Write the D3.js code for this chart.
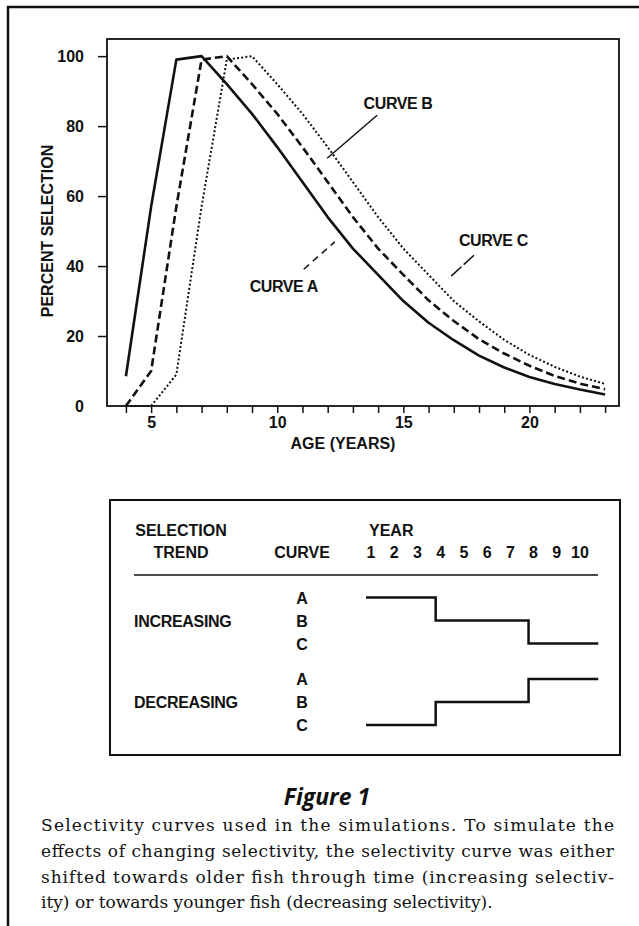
<!DOCTYPE html>
<html>
<head>
<meta charset="utf-8">
<script src="https://cdn.jsdelivr.net/npm/d3@7"></script>
<style>
    body { margin: 0; background: #fff; }
    svg { display: block; }
    .lbl { font-family: "Liberation Sans", Arial, sans-serif; font-weight: bold; font-size: 16px; fill: #111; }
    .cap { font-family: "DejaVu Serif", serif; font-size: 17px; fill: #111; }
</style>
</head>
<body>
<script>
// selectivity (percent) by age for the three curves
let ages = [4, 5, 6, 7, 8, 9, 10, 11, 12, 13, 14, 15, 16, 17, 18, 19, 20, 21, 22, 23];
let curveA = [8.5, 57, 99, 100, 92, 83.5, 74, 64, 54, 45, 37.5, 30, 23.8, 18.8, 14.4, 11, 8.3, 6.3, 4.7, 3.3];
let curveB = [0, 10, 57, 99, 100, 92, 83.5, 74, 64, 54, 45, 37.5, 30.2, 24.3, 19.1, 15, 11.5, 8.6, 6.4, 4.8];
let curveC = [0, 0, 9, 57, 99, 100, 92, 83.5, 74, 64, 54, 45, 37.5, 30, 24.2, 18.9, 14.6, 11.2, 8.4, 6.3];
let xLabels = [5, 10, 15, 20];
let yTicks = [0, 20, 40, 60, 80, 100];

// lower table: which curve is used each year
let years = [1, 2, 3, 4, 5, 6, 7, 8, 9, 10];
let curveNames = ["A", "B", "C"];
let increasingTrend = ["A", "A", "A", "B", "B", "B", "B", "C", "C", "C"];
let decreasingTrend = ["C", "C", "C", "B", "B", "B", "B", "A", "A", "A"];

let captionLines = [
    "Selectivity curves used in the simulations. To simulate the",
    "effects of changing selectivity, the selectivity curve was either",
    "shifted towards older fish through time (increasing selectiv-",
    "ity) or towards younger fish (decreasing selectivity)."
];

let svgWidth = 639,
    svgHeight = 926,
    plot = {left: 107, right: 619, top: 39, bottom: 406},
    ink = "#111";

let svg = d3.select("body").append("svg")
    .attr("width", svgWidth)
    .attr("height", svgHeight);

svg.append("rect").attr("width", svgWidth).attr("height", svgHeight).attr("fill", "#fff");

// page frame (only top and left edges show)
svg.append("path")
    .attr("d", "M8," + svgHeight + "V7H" + svgWidth)
    .attr("fill", "none").attr("stroke", ink).attr("stroke-width", 2.5);

let x = d3.scaleLinear().domain([3.25, 23.55]).range([plot.left, plot.right]);
let y = d3.scaleLinear().domain([0, 104.9]).range([plot.bottom, plot.top]);

// axes
let gx = svg.append("g")
    .attr("transform", "translate(0," + plot.bottom + ")")
    .call(d3.axisBottom(x).tickValues(ages).tickFormat(d => xLabels.includes(d) ? d : "").tickSize(7).tickPadding(4));
gx.select(".domain").remove();
gx.selectAll("line").attr("stroke", ink).attr("stroke-width", 1.5);
gx.selectAll("text").attr("class", "lbl");

let gy = svg.append("g")
    .attr("transform", "translate(" + plot.left + ",0)")
    .call(d3.axisLeft(y).tickValues(yTicks).tickSize(9).tickPadding(14));
gy.select(".domain").remove();
gy.selectAll("line").attr("stroke", ink).attr("stroke-width", 1.5);
gy.selectAll(".tick").filter(d => d === 0).select("line").remove();
gy.selectAll("text").attr("class", "lbl");

svg.append("rect")
    .attr("x", plot.left).attr("y", plot.top)
    .attr("width", plot.right - plot.left).attr("height", plot.bottom - plot.top)
    .attr("fill", "none").attr("stroke", ink).attr("stroke-width", 1.8);

svg.append("text").attr("class", "lbl")
    .attr("x", 343).attr("y", 449)
    .attr("text-anchor", "middle")
    .text("AGE (YEARS)");

svg.append("text").attr("class", "lbl")
    .attr("transform", "translate(53,231) rotate(-90)")
    .attr("text-anchor", "middle")
    .text("PERCENT SELECTION");

// curves
let line = d3.line()
    .x((d, i) => x(ages[i]))
    .y(d => y(d));

function drawCurve(values, width, dash) {
    svg.append("path")
        .datum(values)
        .attr("d", line)
        .attr("fill", "none")
        .attr("stroke", ink)
        .attr("stroke-width", width)
        .attr("stroke-linejoin", "round")
        .attr("stroke-dasharray", dash);
}

drawCurve(curveC, 2, "2,2.2");
drawCurve(curveB, 2.6, "8,4");
drawCurve(curveA, 2.6, null);

// curve labels with pointer lines (in data units)
let notes = [
    {text: "CURVE B", age: 14.79, val: 86.7, from: [13.96, 83.1], to: [11.98, 70.8], dash: null},
    {text: "CURVE C", age: 18.57, val: 47.5, from: [17.8, 43.1], to: [16.8, 36.5], dash: "14,3"},
    {text: "CURVE A", age: 10.26, val: 34.4, from: [11.05, 39.1], to: [12.28, 46.9], dash: "7,5"}
];

notes.forEach(n => {
    svg.append("text").attr("class", "lbl")
        .attr("x", x(n.age)).attr("y", y(n.val) + 6)
        .attr("text-anchor", "middle")
        .attr("letter-spacing", -0.4)
        .text(n.text);
    svg.append("line")
        .attr("x1", x(n.from[0])).attr("y1", y(n.from[1]))
        .attr("x2", x(n.to[0])).attr("y2", y(n.to[1]))
        .attr("stroke", ink).attr("stroke-width", 1.5)
        .attr("stroke-dasharray", n.dash);
});

// table of selection trends
let table = {left: 110, top: 500, width: 510, height: 255};

svg.append("rect")
    .attr("x", table.left).attr("y", table.top)
    .attr("width", table.width).attr("height", table.height)
    .attr("fill", "none").attr("stroke", ink).attr("stroke-width", 2);

let yearX = d3.scaleLinear().domain([1, 10]).range([371, 580]);
let rowY = d3.scalePoint().domain(curveNames).range([0, 46]);
let groups = [
    {name: "INCREASING", top: 597.5, trend: increasingTrend},
    {name: "DECREASING", top: 679, trend: decreasingTrend}
];

svg.append("text").attr("class", "lbl").attr("x", 181).attr("y", 536).attr("text-anchor", "middle").text("SELECTION");
svg.append("text").attr("class", "lbl").attr("x", 181).attr("y", 558).attr("text-anchor", "middle").text("TREND");
svg.append("text").attr("class", "lbl").attr("x", 302).attr("y", 558).attr("text-anchor", "middle").text("CURVE");
svg.append("text").attr("class", "lbl").attr("x", yearX(1) - 2).attr("y", 536).text("YEAR");

svg.selectAll(".yearNum")
    .data(years)
    .join("text")
    .attr("class", "lbl")
    .attr("x", d => yearX(d))
    .attr("y", 558)
    .attr("text-anchor", "middle")
    .text(d => d);

svg.append("line")
    .attr("x1", 134).attr("x2", 598).attr("y1", 575).attr("y2", 575)
    .attr("stroke", ink).attr("stroke-width", 1.5);

groups.forEach(g => {
    svg.append("text").attr("class", "lbl")
        .attr("x", 134).attr("y", g.top + rowY("B") + 6)
        .attr("letter-spacing", -0.3)
        .text(g.name);

    curveNames.forEach(c => {
        svg.append("text").attr("class", "lbl")
            .attr("x", 302).attr("y", g.top + rowY(c) + 6)
            .attr("text-anchor", "middle")
            .text(c);
    });

    // each year spans from just before its number to just before the next one
    let pts = [];
    g.trend.forEach((c, i) => {
        pts.push([yearX(years[i]) - 5, g.top + rowY(c)]);
        pts.push([yearX(years[i] + 1) - 5, g.top + rowY(c)]);
    });
    svg.append("path")
        .attr("d", d3.line()(pts))
        .attr("fill", "none")
        .attr("stroke", ink)
        .attr("stroke-width", 2.5);
});

// caption
svg.append("text")
    .attr("x", 327).attr("y", 805)
    .attr("text-anchor", "middle")
    .style("font-family", "'Open Sans', sans-serif")
    .style("font-weight", "bold")
    .style("font-style", "italic")
    .style("font-size", "23px")
    .style("fill", ink)
    .text("Figure 1");

captionLines.forEach((t, i) => {
    let txt = svg.append("text").attr("class", "cap")
        .attr("x", 41).attr("y", 831 + i * 25.8)
        .text(t);
    if (i < captionLines.length - 1) {
        txt.attr("textLength", 573).attr("lengthAdjust", "spacing");
    }
});
</script>
</body>
</html>
